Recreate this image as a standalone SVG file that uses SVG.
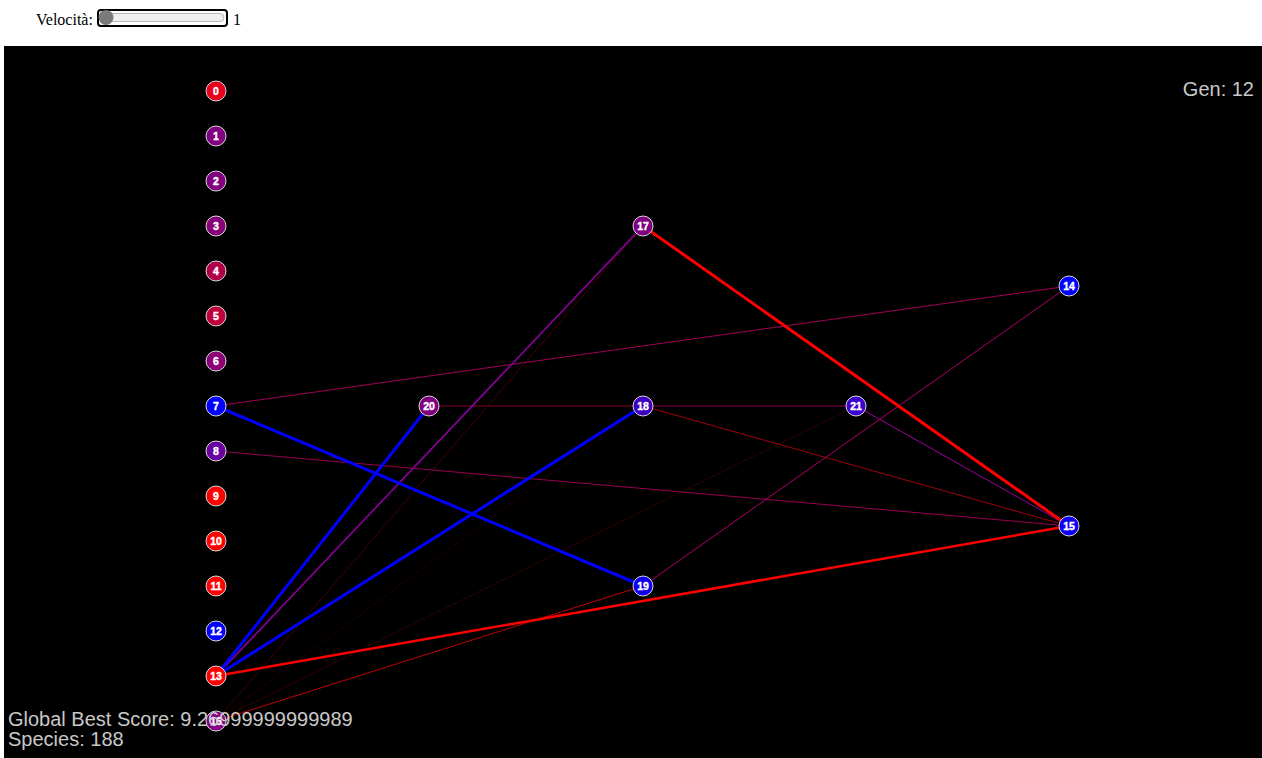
<svg xmlns="http://www.w3.org/2000/svg" width="1262" height="758" viewBox="0 0 1262 758">
<style>
.n circle{stroke:#d8d8d8;stroke-width:1}
.n text{font-family:"Liberation Sans",Arial,sans-serif;font-weight:bold;font-size:10.5px;fill:#fff;stroke:#fff;stroke-width:0.4;text-anchor:middle}
.hud{font-family:"Liberation Sans",Arial,sans-serif;font-size:20px;fill:#c8c8c8}
.c line{fill:none}
</style>
<rect x="0" y="0" width="1262" height="758" fill="#fff"/>
<g id="controls">
<text x="36" y="25" font-family="'Liberation Serif','Times New Roman',serif" font-size="16" fill="#000">Velocità:</text>
<rect x="98" y="10" width="129" height="16" rx="3" fill="#fff" stroke="#000" stroke-width="2"/>
<rect x="101" y="13.5" width="123" height="8" rx="4" fill="#efefef" stroke="#b8b8b8" stroke-width="1"/>
<circle cx="106" cy="17.5" r="7.5" fill="#7a7a7a"/>
<text x="233" y="25" font-family="'Liberation Serif','Times New Roman',serif" font-size="16" fill="#000">1</text>
</g>
<rect x="4" y="46" width="1258" height="712" fill="#000"/>
<g id="connectors" class="c">
<line x1="216" y1="721" x2="643" y2="406" stroke="#220000" stroke-width="1"/>
<line x1="216" y1="721" x2="856" y2="406" stroke="#300000" stroke-width="1"/>
<line x1="216" y1="721" x2="643" y2="226" stroke="#440000" stroke-width="1"/>
<line x1="216" y1="721" x2="643" y2="586" stroke="#c00000" stroke-width="1"/>
<line x1="429" y1="406" x2="643" y2="406" stroke="#5a0018" stroke-width="1.5"/>
<line x1="643" y1="406" x2="856" y2="406" stroke="#600030" stroke-width="1.5"/>
<line x1="643" y1="406" x2="1069" y2="526" stroke="#a00010" stroke-width="1"/>
<line x1="856" y1="406" x2="1069" y2="526" stroke="#a000a0" stroke-width="1"/>
<line x1="216" y1="406" x2="1069" y2="286" stroke="#a00058" stroke-width="1"/>
<line x1="216" y1="451" x2="1069" y2="526" stroke="#980050" stroke-width="1"/>
<line x1="643" y1="586" x2="1069" y2="286" stroke="#b00068" stroke-width="1"/>
<line x1="216" y1="676" x2="643" y2="226" stroke="#800090" stroke-width="1.8"/>
<line x1="216" y1="406" x2="643" y2="586" stroke="#0000ff" stroke-width="3"/>
<line x1="216" y1="676" x2="429" y2="406" stroke="#0000ff" stroke-width="3"/>
<line x1="216" y1="676" x2="643" y2="406" stroke="#0000ff" stroke-width="3"/>
<line x1="216" y1="676" x2="1069" y2="526" stroke="#ff0000" stroke-width="2.5"/>
<line x1="643" y1="226" x2="1069" y2="526" stroke="#ff0000" stroke-width="3"/>
</g>
<g id="node0" class="n"><circle cx="216" cy="91" r="10" fill="#e6001e"/><text x="216" y="94.5">0</text></g>
<g id="node1" class="n"><circle cx="216" cy="136" r="10" fill="#800080"/><text x="216" y="139.5">1</text></g>
<g id="node2" class="n"><circle cx="216" cy="181" r="10" fill="#800080"/><text x="216" y="184.5">2</text></g>
<g id="node3" class="n"><circle cx="216" cy="226" r="10" fill="#880078"/><text x="216" y="229.5">3</text></g>
<g id="node4" class="n"><circle cx="216" cy="271" r="10" fill="#b00048"/><text x="216" y="274.5">4</text></g>
<g id="node5" class="n"><circle cx="216" cy="316" r="10" fill="#c0003c"/><text x="216" y="319.5">5</text></g>
<g id="node6" class="n"><circle cx="216" cy="361" r="10" fill="#8c0078"/><text x="216" y="364.5">6</text></g>
<g id="node7" class="n"><circle cx="216" cy="406" r="10" fill="#0000ff"/><text x="216" y="409.5">7</text></g>
<g id="node8" class="n"><circle cx="216" cy="451" r="10" fill="#6800a0"/><text x="216" y="454.5">8</text></g>
<g id="node9" class="n"><circle cx="216" cy="496" r="10" fill="#ff0000"/><text x="216" y="499.5">9</text></g>
<g id="node10" class="n"><circle cx="216" cy="541" r="10" fill="#ff0000"/><text x="216" y="544.5">10</text></g>
<g id="node11" class="n"><circle cx="216" cy="586" r="10" fill="#ff0000"/><text x="216" y="589.5">11</text></g>
<g id="node12" class="n"><circle cx="216" cy="631" r="10" fill="#0000ff"/><text x="216" y="634.5">12</text></g>
<g id="node13" class="n"><circle cx="216" cy="676" r="10" fill="#ff0000"/><text x="216" y="679.5">13</text></g>
<g id="node16" class="n"><circle cx="216" cy="721" r="10" fill="#880088"/><text x="216" y="724.5">16</text></g>
<g id="node20" class="n"><circle cx="429" cy="406" r="10" fill="#800080"/><text x="429" y="409.5">20</text></g>
<g id="node17" class="n"><circle cx="643" cy="226" r="10" fill="#800080"/><text x="643" y="229.5">17</text></g>
<g id="node18" class="n"><circle cx="643" cy="406" r="10" fill="#4000c0"/><text x="643" y="409.5">18</text></g>
<g id="node19" class="n"><circle cx="643" cy="586" r="10" fill="#1000f0"/><text x="643" y="589.5">19</text></g>
<g id="node21" class="n"><circle cx="856" cy="406" r="10" fill="#3c00d0"/><text x="856" y="409.5">21</text></g>
<g id="node14" class="n"><circle cx="1069" cy="286" r="10" fill="#0000ff"/><text x="1069" y="289.5">14</text></g>
<g id="node15" class="n"><circle cx="1069" cy="526" r="10" fill="#1000f0"/><text x="1069" y="529.5">15</text></g>
<g id="hud">
<text class="hud" x="1254" y="96" text-anchor="end">Gen: 12</text>
<text class="hud" x="8" y="726">Global Best Score: 9.26999999999989</text>
<text class="hud" x="8" y="746">Species: 188</text>
</g>
</svg>
